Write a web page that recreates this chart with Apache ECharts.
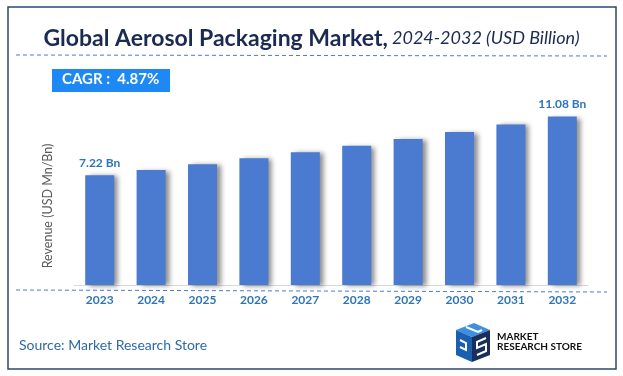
<!DOCTYPE html>
<html>
<head>
<meta charset="utf-8">
<script src="https://cdn.jsdelivr.net/npm/echarts@6/dist/echarts.min.js"></script>
<style>
html,body{margin:0;padding:0;background:#fff;}
#c{width:623px;height:376px;}
</style>
</head>
<body>
<div id="c"></div>
<script>
const years = ['2023','2024','2025','2026','2027','2028','2029','2030','2031','2032'];
const revenue = [7.22, 7.57, 7.94, 8.33, 8.73, 9.16, 9.60, 10.07, 10.56, 11.08];
const cagrText = 'CAGR :  4.87%';
const titleMain = 'Global Aerosol Packaging Market,';
const titleSub = ' 2024-2032 (USD Billion)';
const yAxisName = 'Revenue (USD Mn/Bn)';
const sourceText = 'Source: Market Research Store';

const FONT = 'Lato, "Open Sans", sans-serif';
const chart = echarts.init(document.getElementById('c'));
const lastIdx = revenue.length - 1;

chart.setOption({
  animation: false,
  backgroundColor: '#fff',
  title: {
    left: 'center', top: 22,
    text: '{a|' + titleMain + '}{b|' + titleSub + '}',
    textStyle: {
      fontWeight: 'normal',
      rich: {
        a: {fontFamily: FONT, fontSize: 23, fontWeight: 'bold', color: '#1b2a52'},
        b: {fontFamily: FONT, fontSize: 18, fontWeight: 'normal', fontStyle: 'italic', color: '#1b2a52'}
      }
    }
  },
  grid: {left: 74, right: 35, top: 100, bottom: 91},
  xAxis: {
    type: 'category', data: years,
    axisLine: {show: true, lineStyle: {color: '#d9d9d9', width: 1}},
    axisTick: {show: false},
    axisLabel: {margin: 9, color: '#2e75b6', fontFamily: FONT, fontWeight: 'bold', fontSize: 12}
  },
  yAxis: {
    type: 'value', min: 0, max: 12.17,
    axisLine: {show: false}, axisTick: {show: false}, axisLabel: {show: false},
    splitLine: {show: false}
  },
  series: [{
    type: 'bar', data: revenue, barWidth: 29,
    itemStyle: {
      color: '#4a7bd0',
      shadowColor: 'rgba(0,0,0,0.45)', shadowBlur: 5, shadowOffsetX: 4, shadowOffsetY: 1
    },
    label: {
      show: true, position: 'top', distance: 6,
      color: '#2e75b6', fontFamily: FONT, fontWeight: 'bold', fontSize: 12,
      formatter: p => (p.dataIndex === 0 || p.dataIndex === lastIdx) ? p.value.toFixed(2) + ' Bn' : ''
    }
  }],
  graphic: [
    {type: 'rect', shape: {x: 8, y: 7, width: 608, height: 362},
     style: {fill: 'none', stroke: '#2b4a6f', lineWidth: 1.5}},
    {type: 'line', shape: {x1: 16, y1: 55, x2: 607, y2: 56},
     style: {stroke: '#4a7bd0', lineWidth: 1, lineDash: [4, 3]}},
    {type: 'line', shape: {x1: 16, y1: 290, x2: 607, y2: 292},
     style: {stroke: '#4a7bd0', lineWidth: 1, lineDash: [4, 3]}},
    {type: 'rect', shape: {x: 52, y: 69, width: 118, height: 23},
     style: {fill: '#1e88f5'}},
    {type: 'text', left: 62, top: 72,
     style: {text: cagrText, fill: '#fff', font: 'bold 15px ' + FONT}},
    {type: 'text', x: 48, y: 206, rotation: Math.PI / 2,
     style: {text: yAxisName, fill: '#595959', font: '12.5px ' + FONT, align: 'center', verticalAlign: 'middle'}},
    {type: 'text', left: 19, top: 338,
     style: {text: sourceText, fill: '#2e6aa8', font: '14px ' + FONT}},
    // logo icon
    {type: 'polygon', shape: {points: [[456,330],[474,323],[490,330],[472,337]]}, style: {fill: '#3f8fe0'}},
    {type: 'polygon', shape: {points: [[456,330],[472,337],[472,362],[456,355]]}, style: {fill: '#1b5fb0'}},
    {type: 'polygon', shape: {points: [[472,337],[490,330],[490,355],[472,362]]}, style: {fill: '#1a2f5a'}},
    {type: 'polyline', shape: {points: [[466,327],[478,332],[482,330]]}, style: {stroke: '#fff', lineWidth: 2, fill: 'none'}},
    {type: 'polyline', shape: {points: [[460,340],[466,343],[466,350],[460,347]]}, style: {stroke: '#fff', lineWidth: 2, fill: 'none'}},
    {type: 'polyline', shape: {points: [[486,338],[477,342],[477,348],[486,344],[486,351],[477,355]]}, style: {stroke: '#fff', lineWidth: 2, fill: 'none'}},
    {type: 'text', left: 497, top: 332,
     style: {text: 'MARKET\nRESEARCH STORE', fill: '#111', font: 'bold 10px ' + FONT, lineHeight: 10}}
  ]
});
</script>
</body>
</html>
